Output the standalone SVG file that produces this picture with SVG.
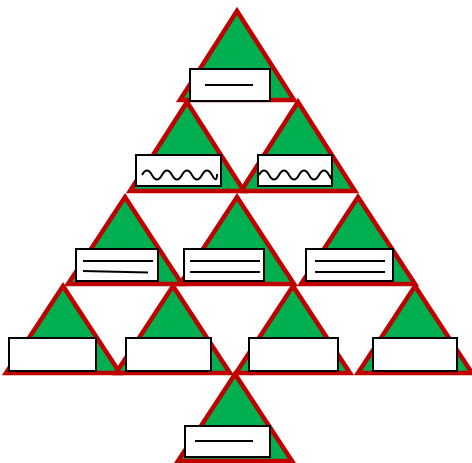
<svg xmlns="http://www.w3.org/2000/svg" width="472" height="463" viewBox="0 0 472 463">
<style>
.tri{fill:#00b050;stroke:#c00000;stroke-width:4.5;stroke-linejoin:miter}
.box{fill:#fff;stroke:#000;stroke-width:2}
.ln{fill:none;stroke:#000;stroke-width:2}
</style>
<rect width="472" height="463" fill="#fff"/>
<g id="n1"><polygon class="tri" points="237,11 294,100 180,100"/><rect class="box" x="190" y="69" width="80" height="32"/><line class="ln" x1="205" y1="85" x2="253" y2="85"/></g>
<g id="n2"><polygon class="tri" points="187,102 244,191 130,191"/><rect class="box" x="136" y="155" width="85" height="31"/><path class="ln" d="M142,175 q5,-9 10,0 t10,0 t10,0 t10,0 t10,0 t10,0 t10,0 t5,-1"/></g>
<g id="n3"><polygon class="tri" points="298,102 355,191 241,191"/><rect class="box" x="258" y="155" width="74" height="31"/><path class="ln" d="M259,175 q5,-9 10,0 t10,0 t10,0 t10,0 t10,0 t10,0 t10,0 t2,0"/></g>
<g id="n4"><polygon class="tri" points="125,197 182,284 68,284"/><rect class="box" x="76" y="249" width="82" height="32"/><line class="ln" x1="83" y1="261" x2="153" y2="261"/><line class="ln" x1="83" y1="271" x2="148" y2="272.5"/></g>
<g id="n5"><polygon class="tri" points="237,197 294,284 180,284"/><rect class="box" x="184" y="249" width="80" height="32"/><line class="ln" x1="190" y1="261" x2="260" y2="261"/><line class="ln" x1="190" y1="272" x2="260" y2="272"/></g>
<g id="n6"><polygon class="tri" points="358,197 415,284 301,284"/><rect class="box" x="306" y="249" width="87" height="32"/><line class="ln" x1="315" y1="261" x2="385" y2="261"/><line class="ln" x1="315" y1="272" x2="385" y2="272"/></g>
<g id="n7"><polygon class="tri" points="63,286 120,373 6,373"/><rect class="box" x="9" y="338" width="87" height="33"/></g>
<g id="n8"><polygon class="tri" points="173,286 230,373 116,373"/><rect class="box" x="126" y="338" width="85" height="33"/></g>
<g id="n9"><polygon class="tri" points="293,286 350,373 236,373"/><rect class="box" x="249" y="338" width="89" height="33"/></g>
<g id="n10"><polygon class="tri" points="415,286 472,373 358,373"/><rect class="box" x="373" y="338" width="84" height="33"/></g>
<g id="n11"><polygon class="tri" points="235,374 292,461 178,461"/><rect class="box" x="185" y="426" width="85" height="31"/><line class="ln" x1="195" y1="441" x2="253" y2="441"/></g>
<g id="connectors"></g>
</svg>
